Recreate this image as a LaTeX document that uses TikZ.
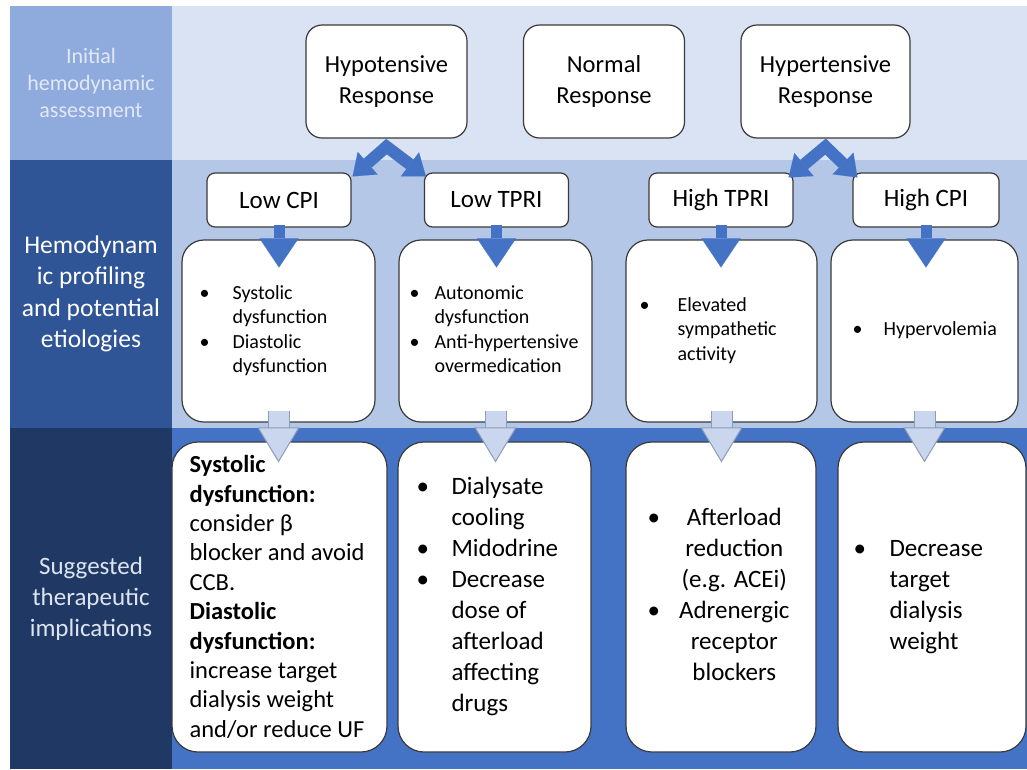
\documentclass[tikz,border=0pt]{standalone}
\usepackage{fontspec}
\setmainfont{Carlito}
\usepackage{tikz}
\usetikzlibrary{calc,arrows.meta}

\definecolor{leftA}{HTML}{8FAADC}
\definecolor{leftB}{HTML}{2F5597}
\definecolor{leftC}{HTML}{203864}
\definecolor{bandA}{HTML}{DAE3F3}
\definecolor{bandB}{HTML}{B4C7E7}
\definecolor{bandC}{HTML}{4472C4}
\definecolor{paleA}{HTML}{E2E9F6}
\definecolor{paleC}{HTML}{DDE4F2}
\definecolor{boxline}{HTML}{3A3A3A}
\definecolor{arrowblue}{HTML}{4472C4}
\definecolor{arrowlight}{HTML}{C9D6EE}
\definecolor{arrowedge}{HTML}{8C9DB8}

\tikzset{
    rowlab/.style={minimum width=162pt, inner sep=0pt, align=center},
    resp/.style={draw=boxline, fill=white, line width=1.2pt, rounded corners=16pt, minimum height=113pt, inner sep=0pt, align=center, font=\fontsize{24.5}{31}\selectfont},
    prof/.style={draw=boxline, fill=white, line width=1.2pt, rounded corners=8pt, minimum width=144pt, minimum height=54pt, inner sep=0pt, font=\fontsize{25}{30}\selectfont},
    etio/.style={draw=boxline, fill=white, line width=1.2pt, rounded corners=22pt, minimum height=182pt, inner sep=0pt},
    ther/.style={draw=boxline, fill=white, line width=1.2pt, rounded corners=26pt, minimum height=310pt, inner sep=0pt},
    etiotxt/.style={anchor=west, inner sep=0pt, font=\fontsize{20}{24.5}\selectfont},
    thertxt/.style={anchor=west, inner sep=0pt, font=\fontsize{25}{31}\selectfont},
    zig/.style={draw=arrowblue, line width=12pt, line join=miter, {Triangle[width=30pt,length=20pt,line width=0.01pt]}-{Triangle[width=30pt,length=20pt,line width=0.01pt]}},
    darrow/.style={draw=arrowblue, line width=11pt, -{Triangle[width=39pt,length=29pt,line width=0.01pt]}},
    larrow/.style={draw=arrowlight, line width=20pt, -{Triangle[width=42pt,length=35pt,fill=arrowlight,color=arrowedge,line width=1pt]}, preaction={draw=arrowedge, line width=22pt, -, shorten >=30pt}}
}

\begin{document}
\begin{tikzpicture}[x=1pt, y=-1pt]
    \useasboundingbox (0,0) rectangle (1027,769);
    % Bands
    \fill [bandA] (172,6) rectangle (1027,160);
    \fill [bandB] (172,160) rectangle (1027,428);
    \fill [bandC] (172,428) rectangle (1027,769);
    % Row labels
    \node [rowlab, fill=leftA, minimum height=154pt, text=paleA, font=\fontsize{22}{27}\selectfont] (initL) at (91,83) {Initial\\hemodynamic\\assessment};
    \node [rowlab, fill=leftB, minimum height=268pt, text=white, font=\fontsize{25.5}{31.5}\selectfont] (profL) at (91,294) {Hemodynam\\ic profiling\\and potential\\etiologies};
    \node [rowlab, fill=leftC, minimum height=341pt, text=paleC, font=\fontsize{25}{31}\selectfont] (therL) at (91,598.5) {Suggested\\therapeutic\\implications};

    % Initial assessment
    \node [resp, minimum width=161pt] (hypo) at (386.5,81.5) {Hypotensive\\Response};
    \node [resp, minimum width=161pt] (norm) at (604,81.5) {Normal\\Response};
    \node [resp, minimum width=169pt] (hyper) at (825.5,81.5) {Hypertensive\\Response};

    % Profiles
    \node [prof] (lcpi) at (279,200) {Low CPI};
    \node [prof] (ltpri) at (496.5,200) {Low TPRI};
    \node [prof] (htpri) at (721,200) {High TPRI};
    \node [prof, minimum width=146pt] (hcpi) at (926,200) {High CPI};

    % Etiologies
    \node [etio, minimum width=193pt] (cardE) at (278.5,331) {};
    \node [etio, minimum width=193pt] (autoE) at (495.5,331) {};
    \node [etio, minimum width=191pt] (sympE) at (721.5,331) {};
    \node [etio, minimum width=187pt] (volE) at (924.5,331) {};
    \node [etiotxt] (cardT) at ($(cardE.west)+(18,0)$) {\begin{tabular}{@{}p{33pt}@{}l@{}}
        \textbullet & Systolic\\ & dysfunction\\ \textbullet & Diastolic\\ & dysfunction
    \end{tabular}};
    \node [etiotxt] (autoT) at ($(autoE.west)+(11,0)$) {\begin{tabular}{@{}p{25pt}@{}l@{}}
        \textbullet & Autonomic\\ & dysfunction\\ \textbullet & Anti-hypertensive\\ & overmedication
    \end{tabular}};
    \node [etiotxt] (sympT) at ($(sympE.west)+(14,0)$) {\begin{tabular}{@{}p{38pt}@{}l@{}}
        \textbullet & Elevated\\ & sympathetic\\ & activity
    \end{tabular}};
    \node [etiotxt] (volT) at ($(volE.west)+(22,0)$) {\begin{tabular}{@{}p{31pt}@{}l@{}}
        \textbullet & Hypervolemia
    \end{tabular}};

    % Therapy
    \node [ther, minimum width=215pt] (cardR) at (279.5,597) {};
    \node [ther, minimum width=193pt] (autoR) at (494.5,597) {};
    \node [ther, minimum width=190pt] (sympR) at (721,597) {};
    \node [ther, minimum width=188pt] (volR) at (932,597) {};
    \node [anchor=west, inner sep=0pt, align=left, font=\fontsize{24.5}{29.4}\selectfont] (cardS) at ($(cardR.west)+(18,0)$) {\textbf{Systolic}\\\textbf{dysfunction:}\\consider β\\blocker and avoid\\CCB.\\\textbf{Diastolic}\\\textbf{dysfunction:}\\increase target\\dialysis weight\\and/or reduce UF};
    \node [thertxt] (autoS) at ($(autoR.west)+(19,0)$) {\begin{tabular}{@{}p{35pt}@{}l@{}}
        \textbullet & Dialysate\\ & cooling\\ \textbullet & Midodrine\\ \textbullet & Decrease\\ & dose of\\ & afterload\\ & affecting\\ & drugs
    \end{tabular}};
    \node [thertxt] (sympS) at ($(sympR.west)+(22,0)$) {\begin{tabular}{@{}l@{\hspace{19pt}}c@{}}
        \textbullet & Afterload\\ & reduction\\ & (e.g. ACEi)\\ \textbullet & Adrenergic\\ & receptor\\ & blockers
    \end{tabular}};
    \node [thertxt] (volS) at ($(volR.west)+(16,0)$) {\begin{tabular}{@{}p{36pt}@{}l@{}}
        \textbullet & Decrease\\ & target\\ & dialysis\\ & weight
    \end{tabular}};

    % Split arrows
    \draw [zig] ($(lcpi.north east)+(1,4)$) -- ($(hypo.south)+(0,8)$) -- ($(ltpri.north west)+(2,4)$);
    \draw [zig] ($(htpri.north east)+(-5,5)$) -- ($(hyper.south)+(0,8)$) -- ($(hcpi.north west)+(5,5)$);

    % Down arrows
    \draw [darrow] ($(lcpi.south)+(0,-3)$) -- ($(lcpi.south |- cardE.north)+(0,28)$);
    \draw [darrow] ($(ltpri.south)+(0,-3)$) -- ($(ltpri.south |- autoE.north)+(0,28)$);
    \draw [darrow] ($(htpri.south)+(0,-3)$) -- ($(htpri.south |- sympE.north)+(0,28)$);
    \draw [darrow] ($(hcpi.south)+(0,-3)$) -- ($(hcpi.south |- volE.north)+(0,28)$);
    \draw [larrow] ($(cardE.south)+(0,-12)$) -- ($(cardE.south |- cardR.north)+(0,21)$);
    \draw [larrow] ($(autoE.south)+(0,-12)$) -- ($(autoE.south |- autoR.north)+(0,21)$);
    \draw [larrow] ($(sympE.south)+(0,-12)$) -- ($(sympE.south |- sympR.north)+(0,21)$);
    \draw [larrow] ($(volE.south)+(0,-12)$) -- ($(volE.south |- volR.north)+(0,21)$);
\end{tikzpicture}
\end{document}
